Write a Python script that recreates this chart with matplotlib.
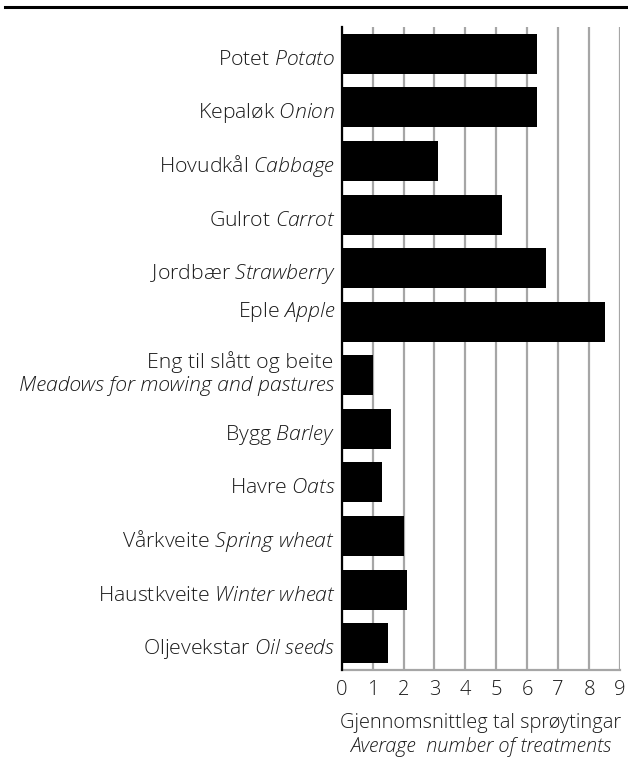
import matplotlib
matplotlib.use("Agg")
import matplotlib.pyplot as plt
from matplotlib.transforms import offset_copy
from matplotlib.lines import Line2D

FAM = ['Open Sans', 'DejaVu Sans']
plt.rcParams['font.family'] = FAM
plt.rcParams['mathtext.fontset'] = 'custom'
plt.rcParams['mathtext.it'] = 'Open Sans:italic:light'
plt.rcParams['mathtext.rm'] = 'Open Sans:light'
WEIGHT = 'light'

no_labels = ["Potet", "Kepaløk", "Hovudkål", "Gulrot", "Jordbær", "Eple",
             "Eng til slått og beite", "Bygg", "Havre", "Vårkveite",
             "Haustkveite", "Oljevekstar"]
en_labels = ["Potato", "Onion", "Cabbage", "Carrot", "Strawberry", "Apple",
             "Meadows for mowing and pastures", "Barley", "Oats",
             "Spring wheat", "Winter wheat", "Oil seeds"]
values = [6.3, 6.3, 3.1, 5.2, 6.6, 8.5, 1.0, 1.6, 1.3, 2.0, 2.1, 1.5]
xticks = list(range(0, 10))
xlabel_no = "Gjennomsnittleg tal sprøytingar"
xlabel_en = "Average  number of treatments"


def it(s):
    return " ".join(r"$\mathit{%s}$" % w for w in s.split(" "))


DPI = 100
fig = plt.figure(figsize=(6.28, 7.65), dpi=DPI)
ax = fig.add_axes([341.7/628, 1-670/765, (620-341.7)/628, (670-27)/765])

GRID = '#a6a6a6'
TXT = '#1a1a1a'
ypos = list(range(len(values)))
ax.barh(ypos, values, height=0.745, color='black', zorder=3)
ax.set_xlim(0, 9)
ax.set_ylim(len(values)-0.5, -0.5)
ax.set_xticks(xticks)
ax.set_xticklabels([str(t) for t in xticks], fontsize=14.5, fontweight=WEIGHT, color=TXT)
ax.tick_params(axis='x', length=0, pad=7)
ax.set_yticks([])
ax.xaxis.grid(True, color=GRID, linewidth=1.6, zorder=0)
ax.set_axisbelow(True)
for s in ['top', 'right']:
    ax.spines[s].set_visible(False)
ax.spines['left'].set_color('black')
ax.spines['left'].set_linewidth(1.6)
ax.spines['left'].set_zorder(4)
ax.spines['bottom'].set_color(GRID)
ax.spines['bottom'].set_linewidth(1.6)

FS = 15.3
pad_px = 8
px = 72.0 / DPI
for i, (no, en) in enumerate(zip(no_labels, en_labels)):
    if i == 6:
        ax.text(0, i, en, fontsize=FS, style='italic', fontweight=WEIGHT, color=TXT,
                ha='right', va='baseline',
                transform=offset_copy(ax.get_yaxis_transform(), fig=fig,
                                      x=-pad_px*px, y=-15.7*px, units='points'))
        ax.text(0, i, no, fontsize=FS, fontweight=WEIGHT, color=TXT, ha='right', va='baseline',
                transform=offset_copy(ax.get_yaxis_transform(), fig=fig,
                                      x=-pad_px*px, y=7.3*px, units='points'))
        continue
    dy = -11.0 if i != 5 else 4.7
    ax.text(0, i, no + " " + it(en), fontsize=FS, fontweight=WEIGHT, color=TXT,
            ha='right', va='baseline',
            transform=offset_copy(ax.get_yaxis_transform(), fig=fig,
                                  x=-(pad_px - 1.5)*px, y=dy*px, units='points'))

fig.text(0.5*(341.7+620)/628, 1-723/765, xlabel_no, fontsize=14.4, fontweight=WEIGHT,
         color=TXT, ha='center', va='center')
fig.text(0.5*(341.7+620)/628, 1-747/765, xlabel_en, fontsize=14.4, fontweight=WEIGHT,
         color=TXT, style='italic', ha='center', va='center')

fig.add_artist(Line2D([5/628, 1.0], [1-6.5/765, 1-6.5/765], color='black', linewidth=2.2,
                      transform=fig.transFigure))

fig.savefig('out.png', dpi=DPI)
